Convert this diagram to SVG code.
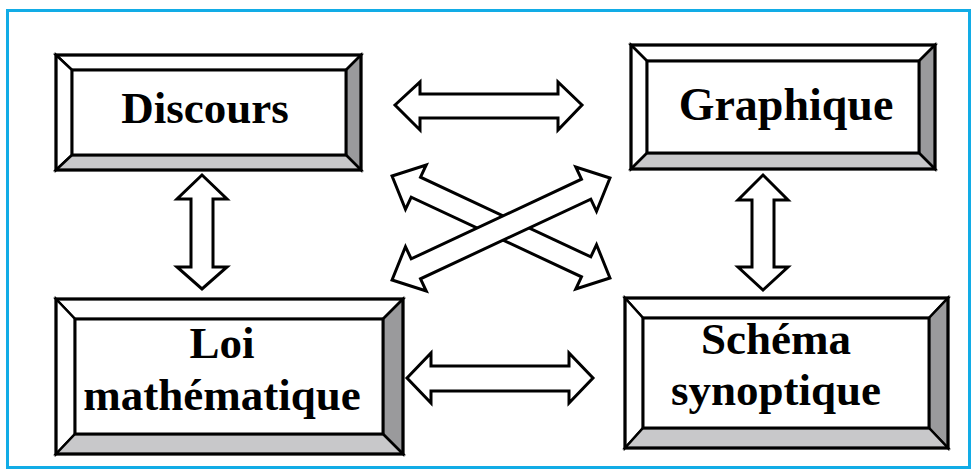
<svg xmlns="http://www.w3.org/2000/svg" width="977" height="476" viewBox="0 0 977 476">
  <defs>
    <style>
      .frame { fill: #ffffff; stroke: #12ace6; stroke-width: 3; }
      .bev { stroke: #000; stroke-width: 2.5; stroke-linejoin: miter; }
      .light { fill: #ffffff; }
      .dark { fill: #9a9a9c; }
      .mid { fill: #c8c8ca; }
      .face { fill: #ffffff; stroke: #000; stroke-width: 3; }
      .edge { fill: none; stroke: #000; stroke-width: 3; }
      .lbl { font-family: "Liberation Serif", "Times New Roman", serif; font-weight: bold; font-size: 45px; fill: #000; text-anchor: middle; }
      .arr { fill: #ffffff; stroke: #000; stroke-width: 3; stroke-linejoin: miter; }
    </style>
    <!-- double-headed block arrow, centred on the origin, pointing along x -->
    <path id="diag" d="M -120.3 0 L -94 -24.5 L -94 -11 L 94 -11 L 94 -24.5 L 120.3 0 L 94 24.5 L 94 11 L -94 11 L -94 24.5 Z"/>
  </defs>

  <rect class="frame" x="7.5" y="10.5" width="962" height="457"/>

  <g id="discours">
    <polygon class="bev light" points="56,55 361,55 346,70 72,70"/>
    <polygon class="bev light" points="56,55 72,70 72,155 56,170"/>
    <polygon class="bev dark" points="361,55 361,170 346,155 346,70"/>
    <polygon class="bev mid" points="56,170 72,155 346,155 361,170"/>
    <rect class="face" x="72" y="70" width="274" height="85"/>
    <rect class="edge" x="56" y="55" width="305" height="115"/>
    <text class="lbl" x="205" y="123">Discours</text>
  </g>

  <g id="graphique">
    <polygon class="bev light" points="631,45 935,45 919,61 647,61"/>
    <polygon class="bev light" points="631,45 647,61 647,153 631,169"/>
    <polygon class="bev dark" points="935,45 935,169 919,153 919,61"/>
    <polygon class="bev mid" points="631,169 647,153 919,153 935,169"/>
    <rect class="face" x="647" y="61" width="272" height="92"/>
    <rect class="edge" x="631" y="45" width="304" height="124"/>
    <text class="lbl" x="786" y="120" style="font-size:46px">Graphique</text>
  </g>

  <g id="loi">
    <polygon class="bev light" points="56,299 403,299 383,319 75,319"/>
    <polygon class="bev light" points="56,299 75,319 75,434 56,454"/>
    <polygon class="bev dark" points="403,299 403,454 383,434 383,319"/>
    <polygon class="bev mid" points="56,454 75,434 383,434 403,454"/>
    <rect class="face" x="75" y="319" width="308" height="115"/>
    <rect class="edge" x="56" y="299" width="347" height="155"/>
    <text class="lbl" x="222" y="358">Loi</text>
    <text class="lbl" x="222" y="410">mathématique</text>
  </g>

  <g id="schema">
    <polygon class="bev light" points="625,298 948,298 929,318 643,318"/>
    <polygon class="bev light" points="625,298 643,318 643,428 625,448"/>
    <polygon class="bev dark" points="948,298 948,448 929,428 929,318"/>
    <polygon class="bev mid" points="625,448 643,428 929,428 948,448"/>
    <rect class="face" x="643" y="318" width="286" height="110"/>
    <rect class="edge" x="625" y="298" width="323" height="150"/>
    <text class="lbl" x="776" y="354">Schéma</text>
    <text class="lbl" x="776" y="405">synoptique</text>
  </g>

  <g id="connectors">
    <!-- Discours / Graphique -->
    <polygon class="arr" points="395,105 420,82 420,94 558,94 558,82 582,105 558,130 558,118 420,118 420,130"/>
    <!-- Loi mathématique / Schéma synoptique -->
    <polygon class="arr" points="407,378 431,353 431,366 569,366 569,353 593,378 569,403 569,391 431,391 431,403"/>
    <!-- Discours / Loi mathématique -->
    <polygon class="arr" points="202,175 227,199 213,199 213,267 227,267 202,289 177,267 191,267 191,199 177,199"/>
    <!-- Graphique / Schéma synoptique -->
    <polygon class="arr" points="763,175 788,200 774,200 774,267 788,267 763,290 738,267 752,267 752,200 738,200"/>
    <!-- crossing diagonals -->
    <use href="#diag" class="arr" transform="translate(501 227) rotate(25.07)"/>
    <use href="#diag" class="arr" transform="translate(501 229) rotate(-25.07)"/>
  </g>
</svg>
